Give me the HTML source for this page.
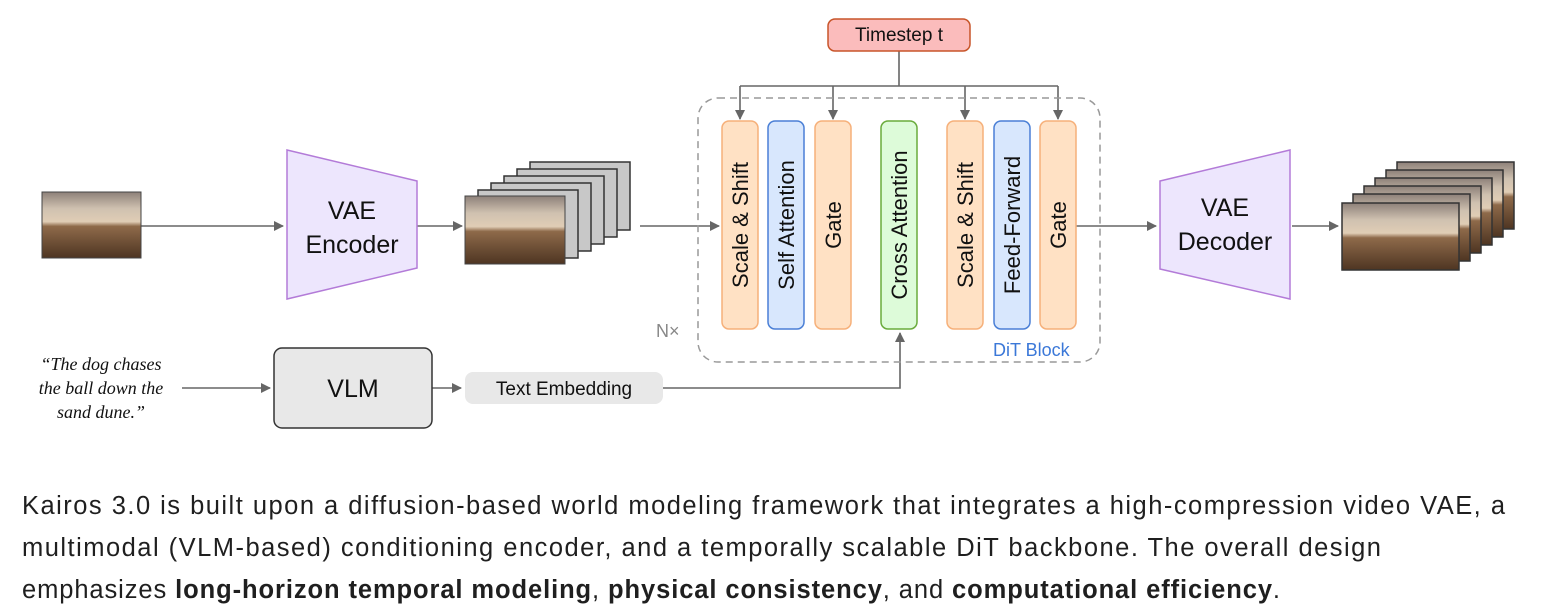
<!DOCTYPE html>
<html><head><meta charset="utf-8"><style>
body{margin:0;background:#fff;width:1552px;height:616px;overflow:hidden;font-family:"Liberation Sans",sans-serif}
svg{position:absolute;left:0;top:0}
</style></head><body>
<svg width="1552" height="616" viewBox="0 0 1552 616">
<defs>
<linearGradient id="img" x1="0" y1="0" x2="0" y2="1">
<stop offset="0" stop-color="#8d8079"/><stop offset="0.25" stop-color="#cfc1b0"/><stop offset="0.45" stop-color="#e0cdb5"/><stop offset="0.52" stop-color="#8e6a4a"/><stop offset="1" stop-color="#4e3522"/>
</linearGradient>
<marker id="a" markerWidth="10" markerHeight="10" refX="9" refY="5" orient="auto" markerUnits="userSpaceOnUse"><path d="M0,0 L10,5 L0,10 z" fill="#666"/></marker>
</defs>
<g stroke="#666" stroke-width="1.6" fill="none">
<line x1="141" y1="226" x2="283" y2="226" marker-end="url(#a)"/>
<line x1="417" y1="226" x2="462" y2="226" marker-end="url(#a)"/>
<line x1="640" y1="226" x2="719" y2="226" marker-end="url(#a)"/>
<line x1="1076" y1="226" x2="1156" y2="226" marker-end="url(#a)"/>
<line x1="1292" y1="226" x2="1338" y2="226" marker-end="url(#a)"/>
<line x1="182" y1="388" x2="270" y2="388" marker-end="url(#a)"/>
<line x1="432" y1="388" x2="461" y2="388" marker-end="url(#a)"/>
<polyline points="663,388 900,388 900,333" marker-end="url(#a)"/>
<polyline points="899,51 899,86"/>
<line x1="740" y1="86" x2="1058" y2="86"/>
<line x1="740" y1="86" x2="740" y2="119" marker-end="url(#a)"/>
<line x1="833" y1="86" x2="833" y2="119" marker-end="url(#a)"/>
<line x1="965" y1="86" x2="965" y2="119" marker-end="url(#a)"/>
<line x1="1058" y1="86" x2="1058" y2="119" marker-end="url(#a)"/>
</g>
<rect x="42" y="192" width="99" height="66" fill="url(#img)" stroke="#444"/>
<path d="M287,150 L417,181 L417,268 L287,299 Z" fill="#ede6fd" stroke="#b37bd8" stroke-width="1.5"/>
<text x="352" y="219" font-size="25" text-anchor="middle" fill="#111">VAE</text>
<text x="352" y="253" font-size="25" text-anchor="middle" fill="#111">Encoder</text>
<g stroke="#333" stroke-width="1.5" fill="#c8c8c8">
<rect x="530" y="162" width="100" height="68"/><rect x="517" y="169" width="100" height="68"/><rect x="504" y="176" width="100" height="68"/><rect x="491" y="183" width="100" height="68"/><rect x="478" y="190" width="100" height="68"/>
</g>
<rect x="465" y="196" width="100" height="68" fill="url(#img)" stroke="#444"/>
<rect x="698" y="98" width="402" height="264" rx="20" fill="none" stroke="#999" stroke-width="1.5" stroke-dasharray="7,5"/>
<rect x="828" y="19" width="142" height="32" rx="7" fill="#fbbcbc" stroke="#c8552a" stroke-width="1.5"/>
<text x="899" y="41" font-size="19" text-anchor="middle" fill="#111">Timestep t</text>
<g stroke-width="1.5">
<rect x="722" y="121" width="36" height="208" rx="7" fill="#ffe1c4" stroke="#f6b07a"/>
<rect x="768" y="121" width="36" height="208" rx="7" fill="#d8e7fd" stroke="#4a7fd6"/>
<rect x="815" y="121" width="36" height="208" rx="7" fill="#ffe1c4" stroke="#f6b07a"/>
<rect x="881" y="121" width="36" height="208" rx="7" fill="#ddfbd9" stroke="#6aab3c"/>
<rect x="947" y="121" width="36" height="208" rx="7" fill="#ffe1c4" stroke="#f6b07a"/>
<rect x="994" y="121" width="36" height="208" rx="7" fill="#d8e7fd" stroke="#4a7fd6"/>
<rect x="1040" y="121" width="36" height="208" rx="7" fill="#ffe1c4" stroke="#f6b07a"/>
</g>
<g font-size="22" text-anchor="middle" fill="#111">
<text transform="translate(748,225) rotate(-90)">Scale &amp; Shift</text>
<text transform="translate(794,225) rotate(-90)">Self Attention</text>
<text transform="translate(841,225) rotate(-90)">Gate</text>
<text transform="translate(907,225) rotate(-90)">Cross Attention</text>
<text transform="translate(973,225) rotate(-90)">Scale &amp; Shift</text>
<text transform="translate(1020,225) rotate(-90)">Feed-Forward</text>
<text transform="translate(1066,225) rotate(-90)">Gate</text>
</g>
<text x="656" y="337" font-size="18" fill="#888">N×</text>
<text x="993" y="356" font-size="18" fill="#3b78d8">DiT Block</text>
<path d="M1160,181 L1290,150 L1290,299 L1160,269 Z" fill="#ede6fd" stroke="#b37bd8" stroke-width="1.5"/>
<text x="1225" y="216" font-size="25" text-anchor="middle" fill="#111">VAE</text>
<text x="1225" y="250" font-size="25" text-anchor="middle" fill="#111">Decoder</text>
<g stroke="#333" stroke-width="1.5" fill="url(#img)">
<rect x="1397" y="162" width="117" height="67"/><rect x="1386" y="170" width="117" height="67"/><rect x="1375" y="178" width="117" height="67"/><rect x="1364" y="186" width="117" height="67"/><rect x="1353" y="194" width="117" height="67"/><rect x="1342" y="203" width="117" height="67"/>
</g>
<g font-family="Liberation Serif,serif" font-style="italic" font-size="18" text-anchor="middle" fill="#111">
<text x="101" y="370">“The dog chases</text>
<text x="101" y="394">the ball down the</text>
<text x="101" y="418">sand dune.”</text>
</g>
<rect x="274" y="348" width="158" height="80" rx="8" fill="#e8e8e8" stroke="#333" stroke-width="1.5"/>
<text x="353" y="397" font-size="25" text-anchor="middle" fill="#111">VLM</text>
<rect x="465" y="372" width="198" height="32" rx="8" fill="#e8e8e8"/>
<text x="564" y="395" font-size="19" text-anchor="middle" fill="#111">Text Embedding</text>
<g font-size="25.5" fill="#1f1f1f">
<text x="22" y="514" textLength="1483" lengthAdjust="spacing">Kairos 3.0 is built upon a diffusion-based world modeling framework that integrates a high-compression video VAE, a</text>
<text x="22" y="556" textLength="1359" lengthAdjust="spacing">multimodal (VLM-based) conditioning encoder, and a temporally scalable DiT backbone. The overall design</text>
<text x="22" y="598" textLength="1258" lengthAdjust="spacing">emphasizes <tspan font-weight="bold">long-horizon temporal modeling</tspan>, <tspan font-weight="bold">physical consistency</tspan>, and <tspan font-weight="bold">computational efficiency</tspan>.</text>
</g>
</svg>
</body></html>
